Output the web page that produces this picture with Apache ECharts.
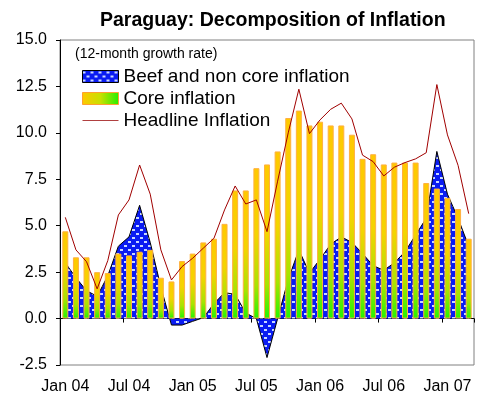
<!DOCTYPE html>
<html>
<head>
<meta charset="utf-8">
<script src="https://cdn.jsdelivr.net/npm/echarts@6/dist/echarts.min.js"></script>
<style>
html,body{margin:0;padding:0;background:#fff;}
#chart{width:478px;height:401px;}
</style>
</head>
<body>
<div id="chart"></div>
<script>
const categories = [
  'Jan 04','Feb 04','Mar 04','Apr 04','May 04','Jun 04','Jul 04','Aug 04','Sep 04','Oct 04','Nov 04','Dec 04',
  'Jan 05','Feb 05','Mar 05','Apr 05','May 05','Jun 05','Jul 05','Aug 05','Sep 05','Oct 05','Nov 05','Dec 05',
  'Jan 06','Feb 06','Mar 06','Apr 06','May 06','Jun 06','Jul 06','Aug 06','Sep 06','Oct 06','Nov 06','Dec 06',
  'Jan 07','Feb 07','Mar 07'
];
const beefNonCore = [3.0, 2.2, 1.5, 1.2, 2.3, 3.9, 4.4, 6.1, 4.1, 1.7, -0.35, -0.35, -0.15, 0.05, 0.8, 1.4, 1.3, 0.3, 0.0, -2.1, 0.0, 2.1, 3.7, 2.45, 3.2, 4.0, 4.4, 4.1, 3.5, 2.85, 2.6, 3.0, 3.6, 4.5, 5.4, 9.0, 6.7, 5.4, 3.9];
const coreInflation = [4.7, 3.3, 3.3, 2.5, 2.45, 3.5, 3.4, 3.6, 3.7, 2.2, 2.0, 3.1, 3.5, 4.1, 4.3, 5.1, 6.9, 6.9, 8.1, 8.3, 9.0, 10.8, 11.2, 10.4, 10.6, 10.4, 10.4, 9.9, 8.6, 8.85, 8.3, 8.4, 8.4, 8.4, 7.3, 7.0, 6.5, 5.9, 4.3];
const headline = [5.45, 3.7, 3.06, 1.6, 3.12, 5.58, 6.39, 8.27, 6.7, 3.7, 2.08, 2.8, 3.25, 3.79, 4.32, 5.85, 7.14, 6.17, 6.39, 4.68, 7.4, 10.0, 12.35, 9.96, 10.7, 11.27, 11.6, 10.75, 8.8, 8.45, 7.68, 8.15, 8.4, 8.6, 8.93, 12.6, 9.89, 8.25, 5.65];
const yTicks = ['-2.5','0.0','2.5','5.0','7.5','10.0','12.5','15.0'];

const FONT = 'Arial, "Liberation Sans", sans-serif';

// dotted blue pattern tile
const tile = document.createElement('canvas');
tile.width = 8; tile.height = 8;
const tc = tile.getContext('2d');
tc.fillStyle = '#0A1CF2';
tc.fillRect(0, 0, 8, 8);
tc.fillStyle = '#C9D8FF';
tc.fillRect(0, 1, 3, 2);
tc.fillRect(4, 5, 3, 2);
const bluePattern = { image: tile, repeat: 'repeat' };

const barGradient = new echarts.graphic.LinearGradient(0, 0, 0, 1, [
  { offset: 0, color: '#FFC800' },
  { offset: 0.45, color: '#F4D400' },
  { offset: 0.78, color: '#A8E400' },
  { offset: 1, color: '#22F500' }
]);
const legendGradient = new echarts.graphic.LinearGradient(0, 0, 1, 0, [
  { offset: 0, color: '#FFC800' },
  { offset: 0.5, color: '#C8E000' },
  { offset: 1, color: '#22F000' }
]);

const chart = echarts.init(document.getElementById('chart'), null, { renderer: 'canvas' });
chart.setOption({
  animation: false,
  backgroundColor: '#fff',
  title: {
    text: 'Paraguay: Decomposition of Inflation',
    left: 95, top: 6,
    textStyle: { fontFamily: FONT, fontSize: 19.5, fontWeight: 'bold', color: '#000' }
  },
  graphic: [{
    type: 'text', left: 75, top: 47,
    style: { text: '(12-month growth rate)', font: '14px ' + FONT, fill: '#000' }
  }],
  legend: {
    orient: 'vertical', left: 82, top: 67, padding: 0,
    itemWidth: 36, itemHeight: 12, itemGap: 3,
    textStyle: { fontFamily: FONT, fontSize: 19, color: '#000' },
    data: [
      { name: 'Beef and non core inflation', icon: 'rect', itemStyle: { color: bluePattern, borderColor: '#000', borderWidth: 1 } },
      { name: 'Core inflation', icon: 'rect', itemStyle: { color: legendGradient, borderColor: '#FFA030', borderWidth: 1 } },
      { name: 'Headline Inflation', itemStyle: { opacity: 0 }, lineStyle: { color: '#B04040', width: 1 } }
    ]
  },
  grid: { left: 60, right: 4, top: 40, bottom: 36, show: true, borderColor: '#808080', borderWidth: 1 },
  xAxis: [{
    type: 'category', data: categories, boundaryGap: true,
    axisLine: { onZero: true, lineStyle: { color: '#000', width: 1 } },
    axisTick: { show: true, interval: 5, length: 4, lineStyle: { color: '#000' } },
    axisLabel: { show: false }
  }, {
    type: 'category', data: categories, boundaryGap: true, position: 'bottom',
    axisLine: { show: false, onZero: false },
    axisTick: { show: false },
    axisLabel: { interval: 5, margin: 14, fontFamily: FONT, fontSize: 16, color: '#000' }
  }],
  yAxis: {
    type: 'value', min: -2.5, max: 15, interval: 2.5,
    axisLine: { show: true, lineStyle: { color: '#000', width: 1 } },
    axisTick: { show: true, length: 4, lineStyle: { color: '#000' } },
    splitLine: { show: false },
    axisLabel: {
      margin: 13, fontFamily: FONT, fontSize: 16, color: '#000',
      formatter: function (v) { const s = v.toFixed(1); return yTicks.indexOf(s) >= 0 ? s : ''; }
    }
  },
  series: [{
    name: 'Beef and non core inflation', type: 'line', data: beefNonCore,
    xAxisIndex: 0, symbol: 'none', z: 1,
    lineStyle: { color: '#000', width: 1 },
    itemStyle: { color: bluePattern },
    areaStyle: { color: bluePattern, opacity: 1 }
  }, {
    name: 'Core inflation', type: 'bar', data: coreInflation,
    xAxisIndex: 0, barWidth: 6, z: 2,
    itemStyle: { color: barGradient, borderColor: '#FFB040', borderWidth: 1 }
  }, {
    name: 'Headline Inflation', type: 'line', data: headline,
    xAxisIndex: 0, symbol: 'none', z: 3,
    lineStyle: { color: '#A00000', width: 1 },
    itemStyle: { color: '#A00000' }
  }]
});
</script>
</body>
</html>
